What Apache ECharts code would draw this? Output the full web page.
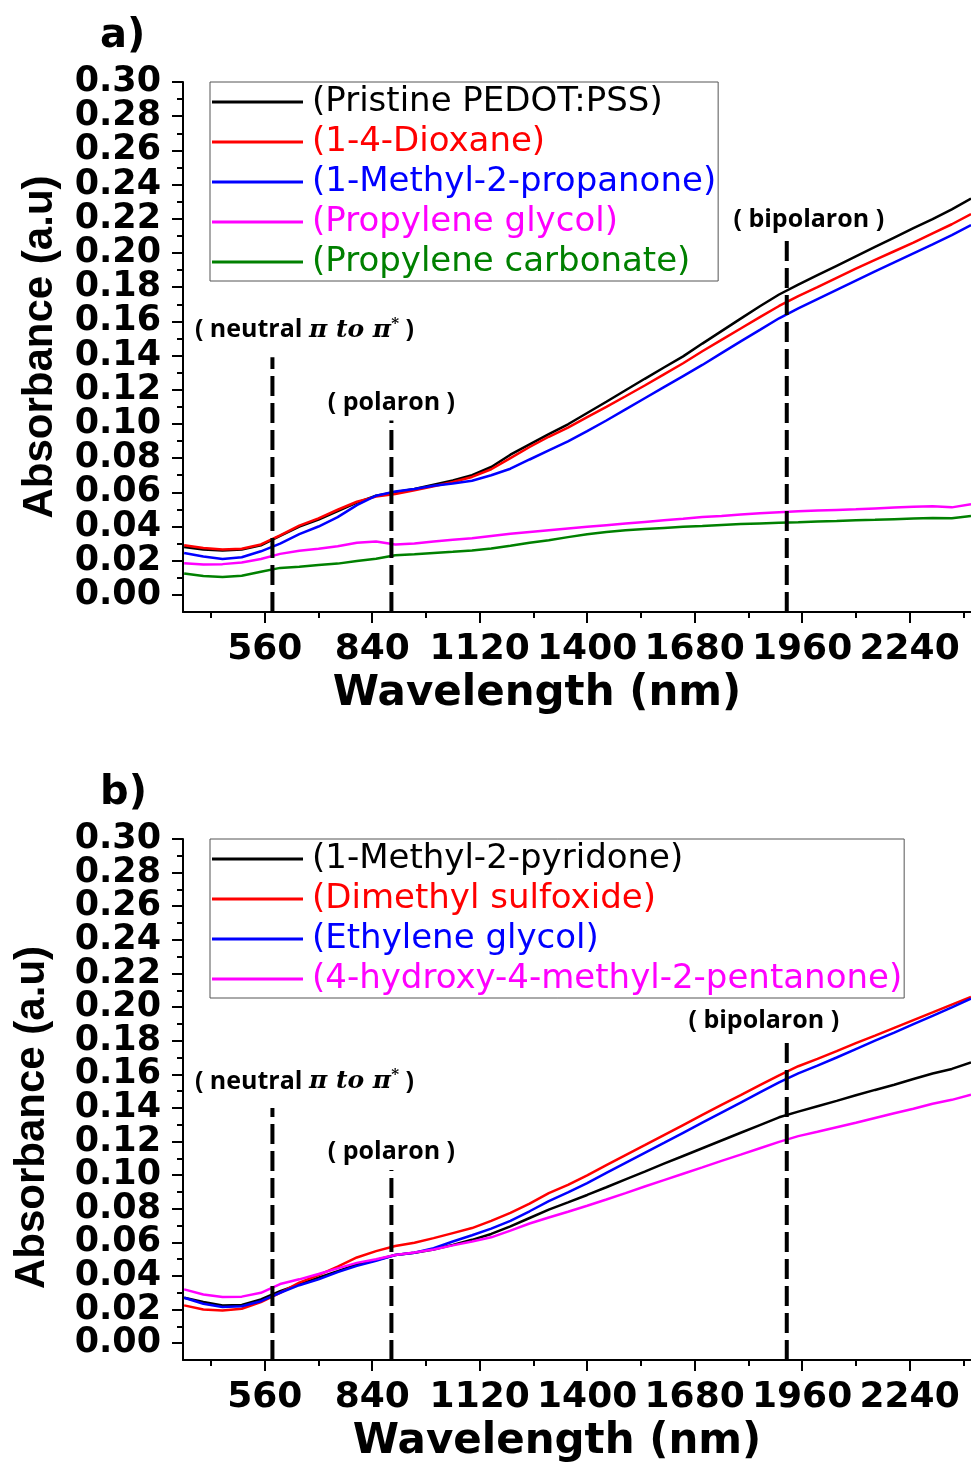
<!DOCTYPE html>
<html><head><meta charset="utf-8">
<script src="https://cdn.jsdelivr.net/npm/echarts@6/dist/echarts.min.js"></script>
<style>html,body{margin:0;padding:0;background:#fff}#c{width:971px;height:1468px}</style>
</head><body><div id="c"></div>
<script>
// ---------- data ----------
const wavelength = [350,400,450,500,550,600,650,700,750,800,850,900,950,1000,1050,1100,1150,1200,1250,1300,1350,1400,1450,1500,1550,1600,1650,1700,1750,1800,1850,1900,1950,2000,2050,2100,2150,2200,2250,2300,2350,2400];

const namesA = ['(Pristine PEDOT:PSS)','(1-4-Dioxane)','(1-Methyl-2-propanone)','(Propylene glycol)','(Propylene carbonate)'];
const aPristine = [0.028,0.0265,0.026,0.0265,0.029,0.0345,0.040,0.044,0.049,0.054,0.058,0.060,0.062,0.0645,0.067,0.070,0.0748,0.082,0.088,0.094,0.0998,0.1064,0.113,0.1197,0.1264,0.133,0.1395,0.147,0.1543,0.1616,0.1688,0.1757,0.1815,0.187,0.1925,0.198,0.2035,0.209,0.2145,0.2198,0.2255,0.2318];
const aDioxane = [0.029,0.0275,0.0265,0.027,0.0295,0.0348,0.0405,0.0448,0.0498,0.0545,0.0575,0.059,0.0612,0.0635,0.066,0.069,0.0735,0.080,0.0865,0.0925,0.0978,0.104,0.110,0.1162,0.1225,0.129,0.1355,0.1425,0.1492,0.1558,0.1625,0.169,0.1748,0.180,0.1855,0.1908,0.196,0.201,0.206,0.2115,0.2168,0.2228];
const aMethylPropanone = [0.0245,0.0225,0.021,0.022,0.0255,0.030,0.0355,0.040,0.0455,0.0525,0.058,0.0605,0.062,0.0638,0.0652,0.0668,0.070,0.0738,0.0792,0.0845,0.0898,0.0958,0.102,0.1085,0.115,0.1215,0.128,0.1345,0.1414,0.1483,0.155,0.1618,0.1676,0.173,0.1784,0.1838,0.1892,0.1945,0.1998,0.205,0.2105,0.2163];
const aPropyleneGlycol = [0.0185,0.0178,0.018,0.019,0.021,0.024,0.0258,0.027,0.0285,0.0305,0.0312,0.0295,0.030,0.0312,0.0322,0.0332,0.0345,0.0357,0.0368,0.0378,0.0388,0.0398,0.0408,0.0418,0.0427,0.0436,0.0445,0.0455,0.0462,0.047,0.0477,0.0484,0.0489,0.0493,0.0497,0.0501,0.0506,0.0511,0.0516,0.0518,0.0512,0.053];
const aPropyleneCarbonate = [0.0125,0.011,0.0105,0.0112,0.0135,0.0158,0.0165,0.0175,0.0183,0.0198,0.0212,0.0232,0.0238,0.0245,0.0252,0.026,0.0272,0.0288,0.0305,0.032,0.0338,0.0355,0.0368,0.0378,0.0385,0.0392,0.0398,0.0403,0.0409,0.0414,0.0418,0.0422,0.0425,0.0429,0.0432,0.0436,0.0439,0.0443,0.0447,0.045,0.0448,0.0462];

const namesB = ['(1-Methyl-2-pyridone)','(Dimethyl sulfoxide)','(Ethylene glycol)','(4-hydroxy-4-methyl-2-pentanone)'];
const bMethylPyridone = [0.027,0.0245,0.0225,0.0228,0.026,0.031,0.035,0.039,0.0428,0.0468,0.0495,0.0525,0.0538,0.0558,0.0585,0.0615,0.065,0.0695,0.0745,0.0795,0.0838,0.0882,0.0928,0.0975,0.1021,0.1068,0.1114,0.116,0.1206,0.1252,0.1298,0.1344,0.1378,0.141,0.1442,0.1475,0.1507,0.1538,0.1572,0.1605,0.1632,0.167];
const bDMSO = [0.0225,0.020,0.0195,0.0205,0.0245,0.030,0.036,0.0405,0.0455,0.051,0.0548,0.0578,0.0598,0.0625,0.0655,0.0685,0.0728,0.0775,0.083,0.0893,0.0942,0.0999,0.1059,0.1119,0.1178,0.1238,0.1298,0.1358,0.1418,0.1476,0.1535,0.1594,0.1648,0.1692,0.1738,0.1785,0.183,0.1876,0.1922,0.1968,0.2015,0.206];
const bEthyleneGlycol = [0.027,0.0235,0.0215,0.022,0.025,0.030,0.0345,0.038,0.0423,0.046,0.049,0.0525,0.0538,0.0565,0.0605,0.0642,0.0682,0.0728,0.0785,0.0845,0.0897,0.0953,0.1013,0.1073,0.1133,0.1192,0.1252,0.1312,0.1372,0.1432,0.1492,0.1552,0.1605,0.1652,0.170,0.175,0.180,0.1848,0.1898,0.1948,0.1998,0.205];
const bHydroxyPentanone = [0.032,0.029,0.0275,0.0277,0.030,0.0352,0.038,0.0412,0.0445,0.0478,0.050,0.0525,0.054,0.0558,0.0582,0.0605,0.063,0.067,0.0712,0.0748,0.0782,0.0818,0.0855,0.0893,0.0932,0.097,0.1008,0.1046,0.1085,0.1122,0.116,0.1198,0.1232,0.1258,0.1285,0.1312,0.134,0.1368,0.1395,0.1425,0.1448,0.1478];

// annotation markers (dashed vertical lines)
const markerText = ['( neutral {it|π to π}{sup|*} )','( polaron )','( bipolaron )'];
const markerWavelength = [580, 890, 1920];
const markerTopA = [0.139, 0.102, 0.209];
const markerTopB = [0.140, 0.103, 0.181];
const axisBottomValue = -0.01;

// ticks
const xMajorTicks = [560,840,1120,1400,1680,1960,2240];
const xMinorTicks = [420,700,980,1260,1540,1820,2100,2380];
const yMajorTicks = [0.00,0.02,0.04,0.06,0.08,0.10,0.12,0.14,0.16,0.18,0.20,0.22,0.24,0.26,0.28,0.30];
const yMinorTicks = [0.01,0.03,0.05,0.07,0.09,0.11,0.13,0.15,0.17,0.19,0.21,0.23,0.25,0.27,0.29];
const panelLabels = ['a)','b)'];
// labels split into two alternating sets so the library does not drop crowded neighbours
const yLabelsEven = yMajorTicks.filter((v,i)=>i%2===0);
const yLabelsOdd = yMajorTicks.filter((v,i)=>i%2===1);

// ---------- styles ----------
const colorsA = ['#000000','#ff0000','#0000ff','#ff00ff','#008000'];
const colorsB = ['#000000','#ff0000','#0000ff','#ff00ff'];
const XMIN = 347, XMAX = 2400, YMIN = -0.01, YMAX = 0.30;
const HFONT = 'DejaVu Sans';

function xAxes(gridIndex, namePad, nameGap) {
  return [{
    gridIndex, type:'value', position:'bottom', min:XMIN, max:XMAX,
    name:'Wavelength (nm)', nameLocation:'middle', nameGap:nameGap,
    nameTextStyle:{fontFamily:HFONT, fontWeight:'bold', fontSize:42, color:'#000', lineHeight:50, padding:namePad},
    axisLine:{show:true, onZero:false, lineStyle:{color:'#000', width:2}},
    axisTick:{show:true, inside:false, length:11, lineStyle:{color:'#000', width:2}, customValues:xMajorTicks},
    axisLabel:{show:true, customValues:xMajorTicks, margin:20, fontFamily:HFONT, fontWeight:'bold', fontSize:36, color:'#000', lineHeight:36,
      showMinLabel:true, showMaxLabel:true, hideOverlap:false, formatter:(v)=>String(Math.round(v))},
    splitLine:{show:false}
  },{
    gridIndex, type:'value', position:'bottom', min:XMIN, max:XMAX,
    axisLine:{show:false, onZero:false},
    axisTick:{show:true, inside:false, length:6, lineStyle:{color:'#000', width:2}, customValues:xMinorTicks},
    axisLabel:{show:false, customValues:xMinorTicks},
    splitLine:{show:false}
  }];
}
const yLabelStyle = {show:true, margin:22, fontFamily:HFONT, fontWeight:'bold', fontSize:35, color:'#000', lineHeight:30,
  showMinLabel:true, showMaxLabel:true, hideOverlap:false, formatter:(v)=>Number(v).toFixed(2)};
function yAxes(gridIndex, nameGap, namePad) {
  return [{
    gridIndex, type:'value', position:'left', min:YMIN, max:YMAX,
    name:'Absorbance (a.u)', nameLocation:'middle', nameGap:nameGap,
    nameTextStyle:{fontFamily:'Liberation Sans', fontWeight:'bold', fontSize:42, color:'#000', lineHeight:46, padding:namePad},
    axisLine:{show:true, onZero:false, lineStyle:{color:'#000', width:2}},
    axisTick:{show:true, inside:false, length:11, lineStyle:{color:'#000', width:2}, customValues:yMajorTicks},
    axisLabel:Object.assign({}, yLabelStyle, {customValues:yLabelsEven}),
    splitLine:{show:false}
  },{
    gridIndex, type:'value', position:'left', min:YMIN, max:YMAX,
    axisLine:{show:false, onZero:false},
    axisTick:{show:false, customValues:yLabelsOdd},
    axisLabel:Object.assign({}, yLabelStyle, {customValues:yLabelsOdd}),
    splitLine:{show:false}
  },{
    gridIndex, type:'value', position:'left', min:YMIN, max:YMAX,
    axisLine:{show:false, onZero:false},
    axisTick:{show:true, inside:false, length:6, lineStyle:{color:'#000', width:2}, customValues:yMinorTicks},
    axisLabel:{show:false, customValues:yMinorTicks},
    splitLine:{show:false}
  }];
}
function lineSeries(name, vals, color, xi, yi) {
  return {type:'line', name, xAxisIndex:xi, yAxisIndex:yi,
    data: wavelength.map((w,i)=>[w, vals[i]]),
    showSymbol:false, symbol:'none', smooth:false,
    lineStyle:{color, width:2.5}, itemStyle:{color}, z:3, silent:true};
}
const labelBase = {show:false, color:'#000', fontFamily:'Open Sans', fontWeight:'bold', fontSize:25, lineHeight:28,
  rich:{
    it:{fontFamily:'DejaVu Serif', fontStyle:'italic', fontWeight:'bold', fontSize:25, color:'#000', lineHeight:28},
    sup:{fontFamily:'DejaVu Serif', fontWeight:'bold', fontSize:15, color:'#000', verticalAlign:'top', lineHeight:28}
  }};
function markerSeries(k, tops, dist, dx, xi, yi) {
  return {type:'line', name:'marker'+xi+'_'+k, xAxisIndex:xi, yAxisIndex:yi,
    data:[[markerWavelength[k], axisBottomValue],
          {value:[markerWavelength[k], tops[k]],
           label:{show:true, position:'top', distance:dist[k], offset:[dx[k],0], formatter:markerText[k]}}],
    symbol:'circle', symbolSize:0, showSymbol:true,
    lineStyle:{color:'#000', width:4, type:[20,7]}, itemStyle:{color:'#000'},
    label:labelBase, z:4, silent:true};
}
const distA = [13,4,4], dxA = [32,0,22];
const distB = [12,4,4], dxB = [32,0,-23];

const seriesA = [aPristine,aDioxane,aMethylPropanone,aPropyleneGlycol,aPropyleneCarbonate];
const seriesB = [bMethylPyridone,bDMSO,bEthyleneGlycol,bHydroxyPentanone];

const series = [];
seriesA.forEach((v,i)=>series.push(lineSeries(namesA[i], v, colorsA[i], 0, 0)));
seriesB.forEach((v,i)=>series.push(lineSeries(namesB[i], v, colorsB[i], 2, 3)));
for (let k=0;k<3;k++){ series.push(markerSeries(k, markerTopA, distA, dxA, 0, 0)); }
for (let k=0;k<3;k++){ series.push(markerSeries(k, markerTopB, distB, dxB, 2, 3)); }

function legendCfg(names, colors, top) {
  return {orient:'vertical', left:210, top, icon:'rect', itemWidth:91, itemHeight:3, itemGap:4,
    padding:[2,2,1,2], borderColor:'#555', borderWidth:1, selectedMode:false, backgroundColor:'#fff',
    data: names.map((n,i)=>({name:n, textStyle:{color:colors[i]}})),
    textStyle:{fontFamily:HFONT, fontSize:34, lineHeight:36, padding:[0,0,0,4]}};
}

const option = {
  animation:false,
  backgroundColor:'#fff',
  title: panelLabels.map((t,i)=>({text:t, left:95, top: i===0 ? 8 : 765,
    textStyle:{fontFamily:HFONT, fontWeight:'bold', fontSize:40, color:'#000', lineHeight:48}})),
  legend:[legendCfg(namesA, colorsA, 82), legendCfg(namesB, colorsB, 839)],
  grid:[{left:183, right:0, top:82, height:530}, {left:183, right:0, top:839, height:530}],
  xAxis:[...xAxes(0,[0,80,0,0],55), ...xAxes(1,[0,40,0,0],57)],
  yAxis:[...yAxes(0,120,[0,0,0,0]), ...yAxes(1,128,[0,36,0,0])],
  series
};
const chart = echarts.init(document.getElementById('c'), null, {renderer:'canvas'});
chart.setOption(option);
</script></body></html>
